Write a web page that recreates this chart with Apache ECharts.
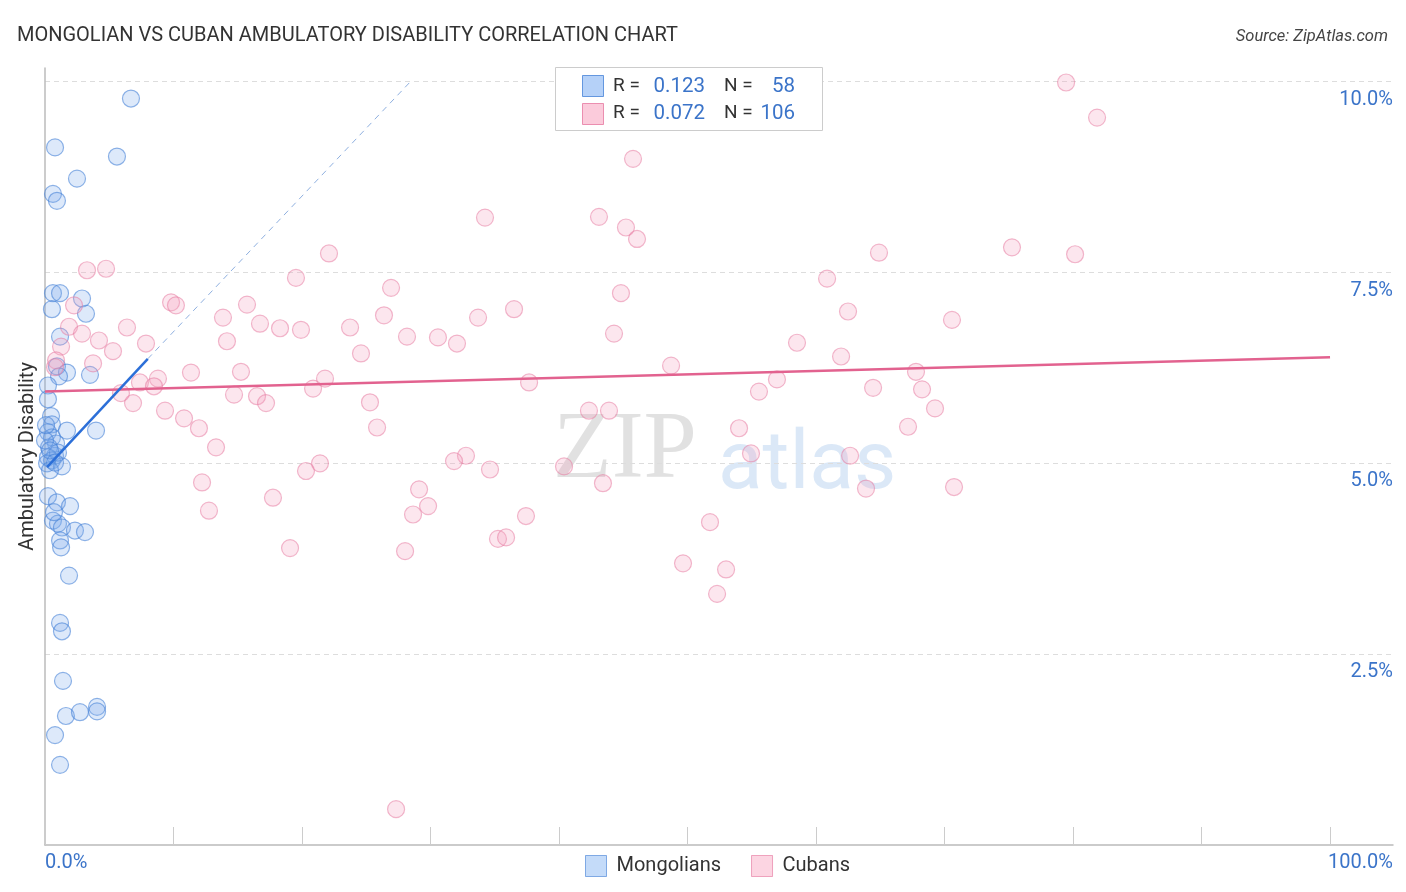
<!DOCTYPE html>
<html><head><meta charset="utf-8">
<script src="https://cdn.jsdelivr.net/npm/echarts@6/dist/echarts.min.js"></script>
<style>html,body{margin:0;padding:0;background:#fff}#c{width:1406px;height:892px}</style>
</head><body><div id="c"></div>
<script>
const mongolians = [
[6.69,9.78],[0.78,9.14],[5.60,9.02],[2.49,8.73],[0.62,8.53],[0.93,8.44],[0.62,7.23],[1.17,7.23],[2.88,7.16],[0.54,7.02],
[3.19,6.96],[1.17,6.66],[0.93,6.27],[1.71,6.19],[1.09,6.14],[3.50,6.16],[0.23,6.02],[0.23,5.84],[0.47,5.62],[0.54,5.51],
[1.71,5.43],[3.97,5.43],[0.23,5.41],[0.54,5.34],[0.86,5.26],[0.31,5.21],[0.78,5.10],[0.23,5.08],[0.54,5.04],[0.16,5.00],
[1.32,4.96],[0.00,5.30],[1.01,5.14],[0.39,4.91],[0.23,4.57],[0.93,4.49],[1.95,4.44],[0.62,4.25],[1.01,4.21],[1.32,4.16],
[2.33,4.12],[3.11,4.10],[1.17,3.99],[1.25,3.90],[1.87,3.53],[1.17,2.91],[1.32,2.80],[1.40,2.15],[1.63,1.69],[2.72,1.74],
[4.05,1.81],[4.05,1.75],[0.78,1.44],[1.17,1.05],[0.08,5.50],[0.39,5.17],[0.78,5.01],[0.70,4.36]
];
const cubans = [
[79.46,9.99],[81.87,9.53],[45.76,8.99],[34.24,8.22],[43.11,8.23],[45.21,8.09],[46.07,7.94],[22.10,7.75],[64.90,7.76],[75.25,7.83],
[80.16,7.74],[3.27,7.53],[4.75,7.55],[19.53,7.43],[60.86,7.42],[26.93,7.30],[44.82,7.23],[9.81,7.11],[10.19,7.07],[15.72,7.08],
[2.26,7.07],[36.50,7.02],[13.85,6.91],[26.38,6.94],[33.70,6.91],[62.49,6.99],[70.58,6.88],[16.73,6.83],[6.38,6.78],[18.29,6.77],
[19.92,6.75],[23.74,6.78],[1.87,6.79],[2.88,6.70],[28.17,6.66],[44.28,6.70],[30.58,6.65],[4.20,6.61],[32.06,6.57],[14.16,6.60],
[7.86,6.57],[1.25,6.53],[5.29,6.47],[58.52,6.58],[24.59,6.44],[0.86,6.35],[61.95,6.40],[3.74,6.31],[0.78,6.26],[48.72,6.28],
[11.36,6.19],[15.25,6.20],[8.79,6.11],[7.39,6.06],[8.48,6.01],[21.79,6.11],[37.67,6.06],[56.96,6.10],[67.78,6.20],[20.86,5.98],
[64.44,5.99],[5.91,5.92],[14.71,5.90],[6.85,5.79],[68.25,5.97],[16.50,5.88],[17.20,5.79],[25.29,5.80],[55.56,5.94],[9.34,5.69],
[69.26,5.72],[42.33,5.69],[43.89,5.69],[10.82,5.59],[11.98,5.46],[25.84,5.47],[54.01,5.46],[67.16,5.48],[13.31,5.21],[32.76,5.10],
[54.94,5.13],[62.65,5.10],[31.83,5.03],[21.40,5.00],[20.31,4.90],[34.63,4.92],[40.39,4.96],[12.22,4.75],[43.42,4.74],[63.89,4.67],
[70.74,4.69],[29.11,4.66],[17.74,4.55],[29.81,4.44],[28.64,4.33],[37.43,4.31],[12.76,4.38],[51.75,4.23],[19.07,3.89],[28.02,3.85],
[35.25,4.01],[35.88,4.03],[49.65,3.69],[53.00,3.61],[52.30,3.29],[27.32,0.47]
];
const mongolianTrendSolid = [[0.16,4.95],[8.0,6.37]];
const mongolianTrendDashed = [[8.0,6.37],[28.6,10.03]];
const cubanTrend = [[0,5.94],[100,6.39]];
const yTicks = [2.5,5.0,7.5,10.0];
const xTickValues = [0,10,20,30,40,50,60,70,80,90,100];
const stats = [{r:'0.123',n:'58'},{r:'0.072',n:'106'}];

const BLUE_FILL='rgba(122,170,235,0.32)', BLUE_LINE='rgba(70,130,215,0.75)';
const PINK_FILL='rgba(245,160,190,0.32)', PINK_LINE='rgba(230,120,160,0.65)';
const LABEL_BLUE='#3b74c9';
const FONT='Roboto, "Noto Sans", sans-serif';

const chart = echarts.init(document.getElementById('c'));
chart.setOption({
  animation:false,
  backgroundColor:'#fff',
  title:[{text:'MONGOLIAN VS CUBAN AMBULATORY DISABILITY CORRELATION CHART',left:12,top:21,
    textStyle:{fontFamily:FONT,fontSize:20,fontWeight:'normal',color:'#333'}},
    {text:'Source: ZipAtlas.com',right:13,top:23,textStyle:{fontFamily:FONT,fontSize:16.5,fontStyle:'italic',fontWeight:'normal',color:'#444'}}],
  grid:{left:45,right:13,top:68,bottom:47},
  legend:{bottom:10,left:580,itemWidth:21,itemHeight:21,itemGap:30,icon:'rect',
    textStyle:{fontFamily:FONT,fontSize:20,color:'#333',padding:[0,0,0,5]},
    data:[{name:'Mongolians',itemStyle:{color:'rgba(150,190,245,0.7)',borderColor:'rgba(70,130,215,0.8)',borderWidth:1}},
          {name:'Cubans',itemStyle:{color:'rgba(250,190,210,0.8)',borderColor:'rgba(230,120,160,0.8)',borderWidth:1}}]},
  xAxis:{type:'value',min:0,max:104.9,interval:10,
    axisLine:{show:true,lineStyle:{color:'#bbb',width:1.5}},
    axisTick:{show:true,inside:true,length:18,lineStyle:{color:'#ccc'},customValues:xTickValues},
    axisLabel:{show:false},splitLine:{show:false}},
  yAxis:[{type:'value',min:0,max:10.18,interval:2.5,position:'right',
    axisLine:{show:false},axisTick:{show:false},
    axisLabel:{inside:true,margin:0,verticalAlign:'top',padding:[8,0,0,0],fontFamily:FONT,fontSize:20,color:LABEL_BLUE,
      customValues:yTicks,formatter:v=>v.toFixed(1)+'%'},
    splitLine:{show:false}},
    {type:'value',min:0,max:10.18,position:'left',name:'Ambulatory Disability',nameLocation:'middle',nameGap:7,
     nameTextStyle:{fontFamily:FONT,fontSize:20,color:'#333'},
     axisLine:{show:true,lineStyle:{color:'#bbb',width:1.5}},axisTick:{show:false},axisLabel:{show:false},splitLine:{show:false}}],
  series:[
    {name:'Mongolians',type:'scatter',data:mongolians,symbolSize:17,yAxisIndex:0,
     itemStyle:{color:BLUE_FILL,borderColor:BLUE_LINE,borderWidth:1.2}},
    {name:'Cubans',type:'scatter',data:cubans,symbolSize:17,yAxisIndex:0,
     itemStyle:{color:PINK_FILL,borderColor:PINK_LINE,borderWidth:1.2},
     markLine:{silent:true,symbol:'none',label:{show:false},z:0,
       lineStyle:{color:'#ddd',type:[5,4],width:1},
       data:yTicks.map(v=>({yAxis:v}))}},
    {type:'line',data:cubanTrend,symbol:'none',lineStyle:{color:'#e2628f',width:2.5},z:5},
    {type:'line',data:mongolianTrendSolid,symbol:'none',lineStyle:{color:'#2c6fd8',width:2.5},z:5},
    {type:'line',data:mongolianTrendDashed,symbol:'none',lineStyle:{color:'#8fb0e0',width:1,type:[6,5]},z:5}
  ],
  graphic:[
    {type:'text',left:553,top:404,z:-1,style:{text:'ZIP',font:'normal 96px "Liberation Serif", "DejaVu Serif", serif',fill:'rgba(195,195,195,0.5)'}},
    {type:'text',left:718,top:426,z:-1,style:{text:'atlas',font:'normal 82px '+FONT,fill:'rgba(160,195,235,0.38)'}},
    {type:'text',left:45,top:853,style:{text:'0.0%',font:'20px '+FONT,fill:LABEL_BLUE}},
    {type:'text',right:13,top:853,style:{text:'100.0%',font:'20px '+FONT,fill:LABEL_BLUE}},
    {type:'rect',left:555,top:67,shape:{width:267,height:63},style:{fill:'#fff',stroke:'#ccc',lineWidth:1},z:10},
    {type:'rect',left:582,top:75,shape:{width:21,height:21},style:{fill:'rgba(150,190,245,0.7)',stroke:'rgba(70,130,215,0.8)',lineWidth:1},z:11},
    {type:'rect',left:582,top:103,shape:{width:21,height:21},style:{fill:'rgba(250,190,210,0.8)',stroke:'rgba(230,120,160,0.8)',lineWidth:1},z:11},
    {type:'text',left:613,top:77,z:11,style:{text:'R =',font:'19px '+FONT,fill:'#333'}},
    {type:'text',left:613,top:104,z:11,style:{text:'R =',font:'19px '+FONT,fill:'#333'}},
    {type:'text',x:705,y:76,z:11,style:{text:stats[0].r,align:'right',font:'20.5px '+FONT,fill:LABEL_BLUE}},
    {type:'text',x:705,y:103,z:11,style:{text:stats[1].r,align:'right',font:'20.5px '+FONT,fill:LABEL_BLUE}},
    {type:'text',left:724,top:77,z:11,style:{text:'N =',font:'19px '+FONT,fill:'#333'}},
    {type:'text',left:724,top:104,z:11,style:{text:'N =',font:'19px '+FONT,fill:'#333'}},
    {type:'text',x:795,y:76,z:11,style:{text:stats[0].n,align:'right',font:'20.5px '+FONT,fill:LABEL_BLUE}},
    {type:'text',x:795,y:103,z:11,style:{text:stats[1].n,align:'right',font:'20.5px '+FONT,fill:LABEL_BLUE}}
  ]
});
</script></body></html>
